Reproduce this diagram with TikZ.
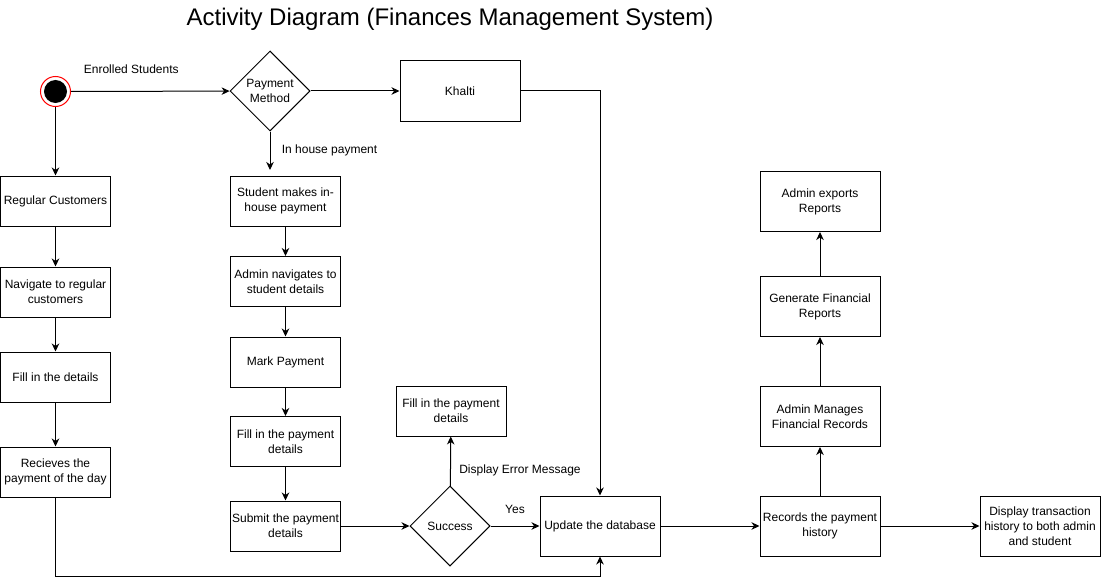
\documentclass[tikz,border=0pt]{standalone}
\usepackage{fontspec}
\setmainfont{Liberation Sans}
\usetikzlibrary{shapes.geometric,arrows.meta}

\begin{document}
\begin{tikzpicture}[x=1pt,y=-1pt,line width=1pt,
    act_node/.style={rectangle,draw,align=center,minimum width=110pt,minimum height=50pt,inner sep=1pt,font=\fontsize{12}{15}\selectfont},
    wide_node/.style={act_node,minimum width=120pt,minimum height=60pt},
    dec_node/.style={diamond,draw,align=center,minimum width=80pt,minimum height=80pt,inner sep=0pt,font=\fontsize{12}{15}\selectfont},
    lbl/.style={font=\fontsize{12}{15}\selectfont},
    flow/.style={-{Stealth[length=8pt,width=7.5pt,inset=2.5pt]}}]

    \useasboundingbox (0,0) rectangle (1101,586);

    \node[font=\fontsize{24}{28}\selectfont] (title) at (450,19) {Activity Diagram (Finances Management System)};

    \node[circle,draw=red,fill=white,minimum size=30pt,inner sep=0pt] (0) at (55.5,91.5) {};
    \fill[black] (0.center) circle (11.5pt);
    \node[dec_node] (1) at (270,91) {Payment\\Method};
    \node[wide_node] (2) at (460,91) {Khalti};

    \node[act_node] (3) at (55.5,201) {Regular Customers};
    \node[act_node] (4) at (55.5,292) {Navigate to regular\\customers};
    \node[act_node] (5) at (55.5,377) {Fill in the details};
    \node[act_node] (6) at (55.5,472) {Recieves the\\payment of the day};

    \node[act_node] (7) at (285.5,201) {Student makes in-\\house payment};
    \node[act_node] (8) at (285.5,281.5) {Admin navigates to\\student details};
    \node[act_node] (9) at (285.5,362) {Mark Payment};
    \node[act_node] (10) at (285.5,441.5) {Fill in the payment\\details};
    \node[act_node] (11) at (285.5,526) {Submit the payment\\details};

    \node[dec_node] (12) at (450,526) {Success};
    \node[act_node] (13) at (451,411) {Fill in the payment\\details};
    \node[wide_node] (14) at (600,526) {Update the database};

    \node[wide_node] (15) at (820,526) {Records the payment\\history};
    \node[wide_node] (16) at (820,416.5) {Admin Manages\\Financial Records};
    \node[wide_node] (17) at (820,306.5) {Generate Financial\\Reports};
    \node[wide_node] (18) at (820,201.5) {Admin exports\\Reports};
    \node[wide_node] (19) at (1040,526) {Display transaction\\history to both admin\\and student};

    \coordinate (c1) at (270,170);

    \draw[flow] (0) -- (1) node[lbl,pos=0.38,above=14pt] {Enrolled Students};
    \draw[flow] (0) -- (3);
    \draw[flow] (1) -- (2);
    \draw[flow] (1) -- (c1) node[lbl,midway,right=8pt] {In house payment};
    \draw[flow] (2.east) -| (14.north);

    \draw[flow] (3) -- (4);
    \draw[flow] (4) -- (5);
    \draw[flow] (5) -- (6);
    \draw[flow] (6.south) |- (55.5,576) -| (14.south);

    \draw[flow] (7) -- (8);
    \draw[flow] (8) -- (9);
    \draw[flow] (9) -- (10);
    \draw[flow] (10) -- (11);
    \draw[flow] (11) -- (12);

    \draw[flow] (12) -- (13) node[lbl,pos=0.32,right=5pt] {Display Error Message};
    \draw[flow] (12) -- (14) node[lbl,midway,above=9pt] {Yes};
    \draw[flow] (14) -- (15);
    \draw[flow] (15) -- (16);
    \draw[flow] (16) -- (17);
    \draw[flow] (17) -- (18);
    \draw[flow] (15) -- (19);
\end{tikzpicture}
\end{document}
